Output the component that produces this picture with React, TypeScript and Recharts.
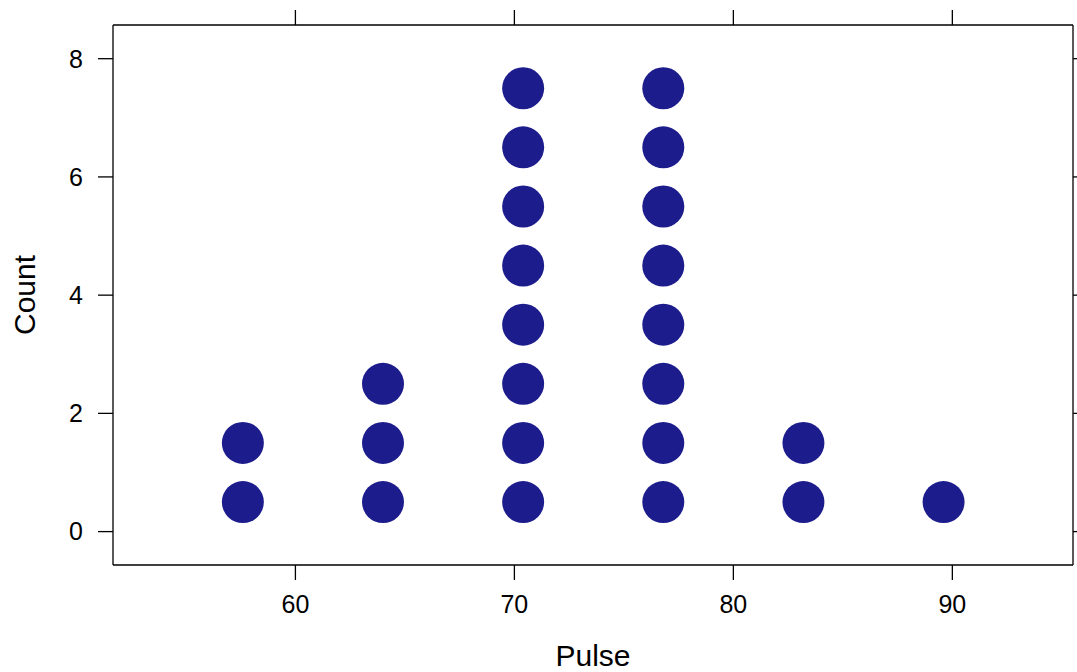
import React from 'react';
import { ScatterChart, Scatter, XAxis, YAxis, Label } from 'recharts';

// pulse bins (centres) and how many dots are stacked at each
const pulseBins = [57.6, 64.0, 70.4, 76.8, 83.2, 89.6];
const binCounts = [2, 3, 8, 8, 2, 1];
const pulseTicks = [60, 70, 80, 90];
const countTicks = [0, 2, 4, 6, 8];

const dots = pulseBins.flatMap((pulse, i) =>
  Array.from({ length: binCounts[i] }, (_, k) => ({ pulse, count: k + 0.5 }))
);

const FONT = '"Liberation Sans", Arial, sans-serif';
const DOT_COLOR = '#1c1c8c';
const axisLine = { stroke: '#000', strokeWidth: 1.3 };
const tickStyle = { fontSize: 25, fill: '#000', fontFamily: FONT };

const Dot = (props: any) => <circle cx={props.cx} cy={props.cy} r={21} fill={DOT_COLOR} />;
const NoTick = () => <g />;

const App: React.FC = () => {
  return (
    <div style={{ position: 'absolute', left: 0, top: 0, width: 1077, height: 672, background: '#fff' }}>
      <ScatterChart width={1077} height={672} margin={{ top: 0, right: 0, bottom: 0, left: 0 }}>
        <XAxis
          dataKey="pulse"
          type="number"
          domain={[51.67, 95.51]}
          ticks={pulseTicks}
          interval={0}
          allowDataOverflow
          height={107}
          axisLine={axisLine}
          tickLine={axisLine}
          tickSize={15}
          tickMargin={15}
          tick={tickStyle}
        >
          <Label value="Pulse" position="insideBottom" offset={6} style={{ fontSize: 30, fill: '#000', fontFamily: FONT }} />
        </XAxis>
        <XAxis
          xAxisId="top"
          dataKey="pulse"
          orientation="top"
          type="number"
          domain={[51.67, 95.51]}
          ticks={pulseTicks}
          interval={0}
          allowDataOverflow
          height={25}
          axisLine={axisLine}
          tickLine={axisLine}
          tickSize={15}
          tick={NoTick}
        />
        <YAxis
          dataKey="count"
          type="number"
          domain={[-0.565, 8.57]}
          ticks={countTicks}
          interval={0}
          allowDataOverflow
          width={113}
          axisLine={axisLine}
          tickLine={axisLine}
          tickSize={15}
          tickMargin={15}
          tick={tickStyle}
        >
          <Label
            content={({ viewBox }: any) => {
              const cy = viewBox.y + viewBox.height / 2;
              return (
                <text
                  x={24}
                  y={cy}
                  transform={`rotate(-90, 24, ${cy})`}
                  textAnchor="middle"
                  dominantBaseline="central"
                  style={{ fontSize: 30, fill: '#000', fontFamily: FONT }}
                >
                  Count
                </text>
              );
            }}
          />
        </YAxis>
        <YAxis
          yAxisId="right"
          dataKey="count"
          orientation="right"
          type="number"
          domain={[-0.565, 8.57]}
          ticks={countTicks}
          interval={0}
          allowDataOverflow
          width={4}
          axisLine={axisLine}
          tickLine={axisLine}
          tickSize={15}
          tick={NoTick}
        />
        <Scatter data={dots} shape={Dot} isAnimationActive={false} />
      </ScatterChart>
    </div>
  );
};

export default App;
